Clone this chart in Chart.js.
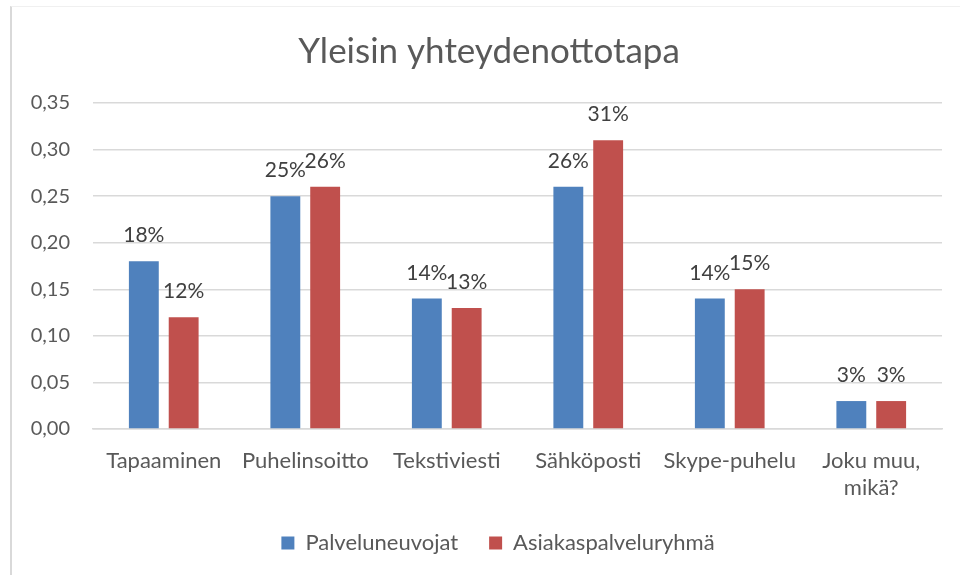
<!DOCTYPE html>
<html><head><meta charset="utf-8">
<script src="https://cdn.jsdelivr.net/npm/chart.js@4/dist/chart.umd.min.js"></script>
<style>
html,body{margin:0;padding:0;background:#fff;}
#wrap{position:absolute;left:0;top:0;width:960px;height:575px;}
#frame{position:absolute;left:10px;top:6px;right:0;bottom:0;border-left:2px solid #d9d9d9;border-top:1px solid #f0f0f0;pointer-events:none}
</style></head><body>
<div id="wrap"><canvas id="c" width="960" height="575"></canvas><div id="frame"></div></div>
<script>
const chartTitle = "Yleisin yhteydenottotapa";
const categories = ["Tapaaminen", "Puhelinsoitto", "Tekstiviesti", "Sähköposti", "Skype-puhelu", ["Joku muu,", "mikä?"]];
const seriesNames = ["Palveluneuvojat", "Asiakaspalveluryhmä"];
const palveluneuvojat = [0.18, 0.25, 0.14, 0.26, 0.14, 0.03];
const asiakaspalveluryhma = [0.12, 0.26, 0.13, 0.31, 0.15, 0.03];
const yMin = 0, yMax = 0.35, yStep = 0.05;

const FONT = "Lato";
const TEXT = "#595959";

// Title centred over the chart frame (like the original), drawn as canvas text
const frameTitle = {
  id: 'frameTitle',
  afterLayout(chart) {
    // centre the legend over the frame rather than the layout box
    if (chart.legend) { chart.legend.left += 27; chart.legend.right += 27; }
  },
  afterDraw(chart) {
    const ctx = chart.ctx;
    ctx.save();
    ctx.font = '35px ' + FONT;
    ctx.fillStyle = TEXT;
    ctx.textAlign = 'center';
    ctx.textBaseline = 'middle';
    ctx.fillText(chartTitle, (chart.width + 18) / 2, 52);
    ctx.restore();
  }
};

const dataLabels = {
  id: 'dataLabels',
  afterDatasetsDraw(chart) {
    const ctx = chart.ctx;
    ctx.save();
    ctx.font = '21px ' + FONT;
    ctx.fillStyle = '#404040';
    ctx.textAlign = 'center';
    ctx.textBaseline = 'alphabetic';
    chart.data.datasets.forEach((ds, i) => {
      const meta = chart.getDatasetMeta(i);
      meta.data.forEach((bar, j) => {
        ctx.fillText(Math.round(ds.data[j] * 100) + '%', bar.x, bar.y - 19);
      });
    });
    ctx.restore();
  }
};

function draw() {
  new Chart(document.getElementById('c'), {
    type: 'bar',
    data: {
      labels: categories,
      datasets: [
        { label: seriesNames[0], data: palveluneuvojat, backgroundColor: '#4F81BD' },
        { label: seriesNames[1], data: asiakaspalveluryhma, backgroundColor: '#C0504D' }
      ]
    },
    options: {
      responsive: false,
      animation: false,
      devicePixelRatio: 1,
      categoryPercentage: 0.563,
      barPercentage: 0.75,
      layout: { padding: { left: 0, right: 18, top: 103, bottom: 11 } },
      plugins: {
        title: { display: false },
        legend: {
          position: 'bottom',
          labels: {
            color: TEXT, boxWidth: 13, boxHeight: 13, padding: 31,
            font: { family: FONT, size: 22 }
          }
        },
        tooltip: { enabled: false }
      },
      scales: {
        x: {
          grid: { display: false, drawTicks: false },
          border: { color: '#d9d9d9', width: 1.5 },
          ticks: { color: TEXT, padding: 19, font: { family: FONT, size: 22, lineHeight: 1.2 }, maxRotation: 0, autoSkip: false },
          afterFit(s) { s.height = 72; }
        },
        y: {
          min: yMin, max: yMax,
          grid: { color: '#d9d9d9', lineWidth: 1.5, drawTicks: false },
          border: { display: false },
          ticks: {
            stepSize: yStep, color: TEXT, padding: 23,
            font: { family: FONT, size: 20 },
            callback: v => Number(v).toFixed(2).replace('.', ',')
          },
          afterFit(s) { s.width = 93; }
        }
      }
    },
    plugins: [dataLabels, frameTitle]
  });
}
document.fonts.load('20px ' + FONT).then(draw, draw);
</script>
</body></html>
